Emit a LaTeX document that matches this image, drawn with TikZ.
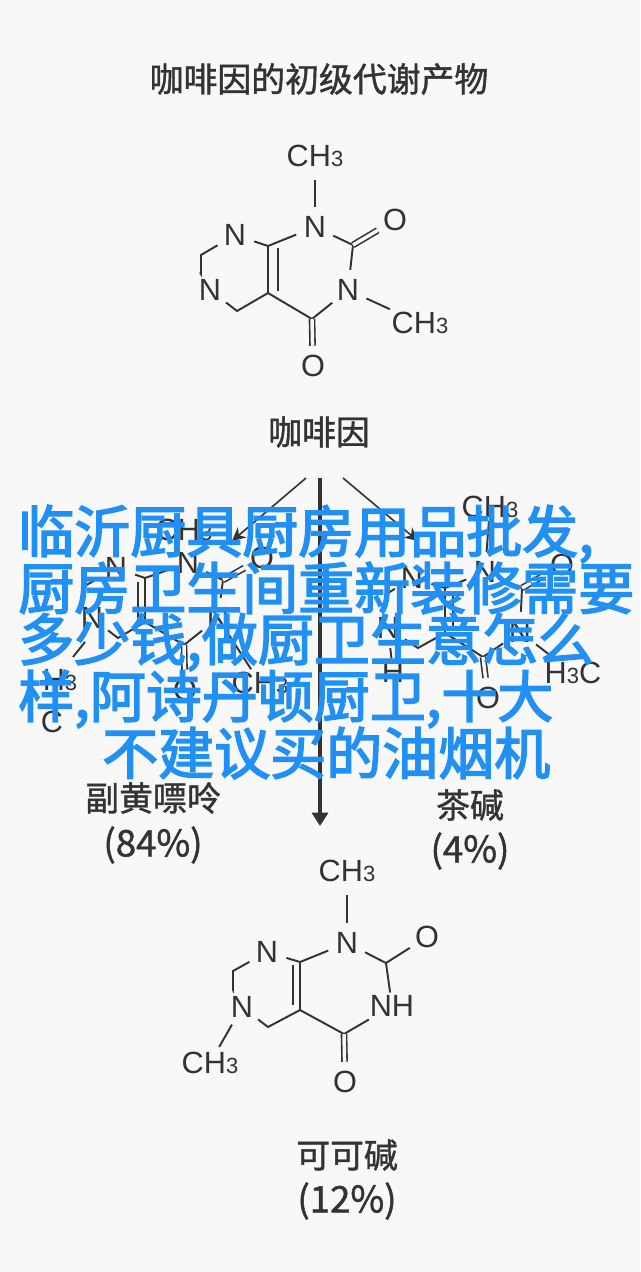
\documentclass[tikz,border=0pt]{standalone}
\usepackage{fontspec}
\setmainfont{Liberation Sans}
\newfontfamily\cjk[FakeBold=1.2]{Noto Sans CJK SC}
\newfontfamily\cjkheavy[FakeBold=2.8]{Noto Sans CJK SC}
\usetikzlibrary{arrows.meta}
\definecolor{cardbg}{HTML}{F8F8F8}
\definecolor{inkgray}{HTML}{333333}
\definecolor{bannerblue}{HTML}{2190F5}
\newcommand{\subnum}[1]{{\fontsize{16.5}{16.5}\selectfont #1}}
\tikzset{
  atom/.style={circle,inner sep=0pt,minimum size=30pt,text=inkgray,font=\fontsize{23}{26}\selectfont},
  methyl/.style={inner sep=2pt,text=inkgray,font=\fontsize{23}{26}\selectfont},
  bond/.style={draw=inkgray,line width=1.45pt},
  dblbond/.style={bond,double=cardbg,double distance=2.6pt,line width=1.2pt},
  name label/.style={text=inkgray,font=\cjk\fontsize{25.4}{30}\selectfont},
  pct label/.style={text=inkgray,font=\cjk\fontsize{27.5}{30}\selectfont},
  banner/.style={anchor=west,inner sep=0pt,text=bannerblue,font=\cjkheavy\fontsize{42}{50}\selectfont},
  pathway/.style={draw=inkgray,line width=1.2pt,-{Stealth[length=10pt,width=10pt]}},
}
\begin{document}
\begin{tikzpicture}[x=0.75pt,y=-0.75pt]
\useasboundingbox[fill=cardbg] (0,0) rectangle (640,1272);

\node[name label] (title) at (319,79) {咖啡因的初级代谢产物};

% caffeine
\node[methyl] (ameA) at (315,156) {CH\subnum{3}};
\node[atom] (an1) at (315,227) {N};
\node[atom] (an2) at (235,235) {N};
\node[atom] (an3) at (210,290) {N};
\node[atom] (an4) at (348,290) {N};
\node[atom] (aoA) at (395,220) {O};
\node[atom] (aoB) at (313,366) {O};
\node[methyl] (ameB) at (420,323) {CH\subnum{3}};
\coordinate (ac1) at (201,255);
\coordinate (ac2) at (201,274);
\coordinate (ac3) at (237,311);
\coordinate (ac4) at (268,293);
\coordinate (ac5) at (268,246);
\coordinate (ac6) at (312,319);
\coordinate (ac7) at (353,245);
\coordinate (ad1) at (278,248);
\coordinate (ad2) at (278,291);
\draw[bond,shorten <=8pt] (ameA) -- (an1);
\draw[bond] (an2) -- (ac1) -- (ac2) -- (an3);
\draw[bond] (an3) -- (ac3) -- (ac4) -- (ac6) -- (an4);
\draw[bond] (an2) -- (ac5) -- (ac4);
\draw[bond] (ad1) -- (ad2);
\draw[bond] (ac5) -- (an1);
\draw[bond] (an1) -- (ac7) -- (an4);
\draw[bond] (an4) -- (ameB);
\draw[dblbond] (ac7) -- (aoA);
\draw[dblbond] (ac6) -- (aoB);

\node[name label] (caffeine) at (319,432) {咖啡因};
\coordinate (forkL) at (306,478);
\coordinate (forkM) at (320,478);
\coordinate (forkR) at (343,478);
\coordinate (tipL) at (232,541);
\coordinate (tipM) at (320,826);
\coordinate (tipR) at (418,541);
\draw[pathway] (forkL) -- (tipL);
\draw[pathway] (forkR) -- (tipR);
\draw[draw=inkgray,line width=2.4pt,-{Triangle[length=10pt,width=12pt]}] (forkM) -- (tipM);

% paraxanthine
\node[methyl] (bmeA) at (184,530) {CH\subnum{3}};
\node[atom] (bn1) at (188,563) {N};
\node[atom] (bn2) at (116,568) {N};
\node[atom] (bn3) at (92,618) {N};
\node[atom] (bn4) at (218,618) {N};
\node[atom] (boA) at (262,558) {O};
\node[atom] (boB) at (185,690) {O};
\node[methyl] (bmeB) at (260,683) {CH\subnum{3}};
\node[methyl] (bmeC) at (60,680) {H\subnum{3}};
\node[methyl] (bmeD) at (52,722) {C};
\coordinate (bc1) at (83,587);
\coordinate (bc2) at (83,605);
\coordinate (bc3) at (118,638);
\coordinate (bc4) at (145,622);
\coordinate (bc5) at (145,578);
\coordinate (bc6) at (184,645);
\coordinate (bc7) at (223,580);
\coordinate (bd1) at (138,582);
\coordinate (bd2) at (138,618);
\coordinate (be1) at (85,642);
\coordinate (be2) at (73,657);
\draw[bond] (bn2) -- (bc1) -- (bc2) -- (bn3);
\draw[bond] (bn3) -- (bc3) -- (bc4) -- (bc6) -- (bn4);
\draw[bond] (bn2) -- (bc5) -- (bc4);
\draw[bond] (bd1) -- (bd2);
\draw[bond] (bc5) -- (bn1);
\draw[bond] (bn1) -- (bc7) -- (bn4);
\draw[bond] (bn4) -- (bmeB);
\draw[bond] (be1) -- (be2);
\draw[dblbond] (bc7) -- (boA);
\draw[dblbond] (bc6) -- (boB);

% theophylline
\node[methyl] (cmeA) at (490,507) {CH\subnum{3}};
\node[atom] (cn1) at (485,572) {N};
\node[atom] (cn2) at (412,578) {N};
\node[atom] (cn3) at (388,628) {N};
\node[atom] (cn4) at (520,632) {N};
\node[atom] (coA) at (562,565) {O};
\node[atom] (coB) at (488,698) {O};
\node[methyl] (cmeB) at (573,673) {H\subnum{3}C};
\node[methyl] (chA) at (393,672) {H};
\coordinate (cc1) at (385,595);
\coordinate (cc2) at (385,610);
\coordinate (cc3) at (418,648);
\coordinate (cc4) at (445,633);
\coordinate (cc5) at (445,588);
\coordinate (cc6) at (483,657);
\coordinate (cc7) at (522,588);
\coordinate (cd1) at (453,592);
\coordinate (cd2) at (453,630);
\draw[bond] (cn2) -- (cc1) -- (cc2) -- (cn3);
\draw[bond] (cn3) -- (cc3) -- (cc4) -- (cc6) -- (cn4);
\draw[bond] (cn2) -- (cc5) -- (cc4);
\draw[bond] (cd1) -- (cd2);
\draw[bond] (cc5) -- (cn1);
\draw[bond] (cn1) -- (cc7) -- (cn4);
\draw[bond] (cmeA) -- (cn1);
\draw[bond] (cn3) -- (chA);
\draw[bond] (cn4) -- (cmeB);
\draw[dblbond] (cc7) -- (coA);
\draw[dblbond] (cc6) -- (coB);

\node[name label] (bname) at (153,798) {副黄嘌呤};
\node[pct label] (bpct) at (153,845) {(84\%)};
\node[name label] (cname) at (470,805) {茶碱};
\node[pct label] (cpct) at (470,851) {(4\%)};

% theobromine
\node[methyl] (dmeA) at (347,871) {CH\subnum{3}};
\node[atom] (dn1) at (347,943) {N};
\node[atom] (dn2) at (267,952) {N};
\node[atom] (dn3) at (242,1007) {N};
\node[methyl] (dn4) at (392,1006) {NH};
\node[atom] (doA) at (427,937) {O};
\node[atom] (doB) at (345,1082) {O};
\node[methyl] (dmeB) at (210,1063) {CH\subnum{3}};
\coordinate (dc1) at (233,971);
\coordinate (dc2) at (233,990);
\coordinate (dc3) at (268,1027);
\coordinate (dc4) at (300,1010);
\coordinate (dc5) at (300,962);
\coordinate (dc6) at (344,1034);
\coordinate (dc7) at (386,963);
\coordinate (dd1) at (293,965);
\coordinate (dd2) at (293,1005);
\draw[bond,shorten <=8pt] (dmeA) -- (dn1);
\draw[bond] (dn2) -- (dc1) -- (dc2) -- (dn3);
\draw[bond] (dn3) -- (dc3) -- (dc4) -- (dc6) -- (dn4);
\draw[bond] (dn2) -- (dc5) -- (dc4);
\draw[bond] (dd1) -- (dd2);
\draw[bond] (dc5) -- (dn1);
\draw[bond] (dn1) -- (dc7) -- (dn4);
\draw[bond] (dc7) -- (doA);
\draw[bond,shorten >=2pt] (dn3) -- (dmeB);
\draw[dblbond] (dc6) -- (doB);

\node[name label] (dname) at (347,1155) {可可碱};
\node[pct label] (dpct) at (347,1201) {(12\%)};

% headline over everything
\node[banner] (lineA) at (18,534) {临沂厨具厨房用品批发,};
\node[banner] (lineB) at (18,588) {厨房卫生间重新装修需要};
\node[banner] (lineC) at (18,642) {多少钱,做厨卫生意怎么};
\node[banner] (lineD) at (18,699) {样,阿诗丹顿厨卫,十大};
\node[banner] (lineE) at (102,753) {不建议买的油烟机};
\end{tikzpicture}
\end{document}
